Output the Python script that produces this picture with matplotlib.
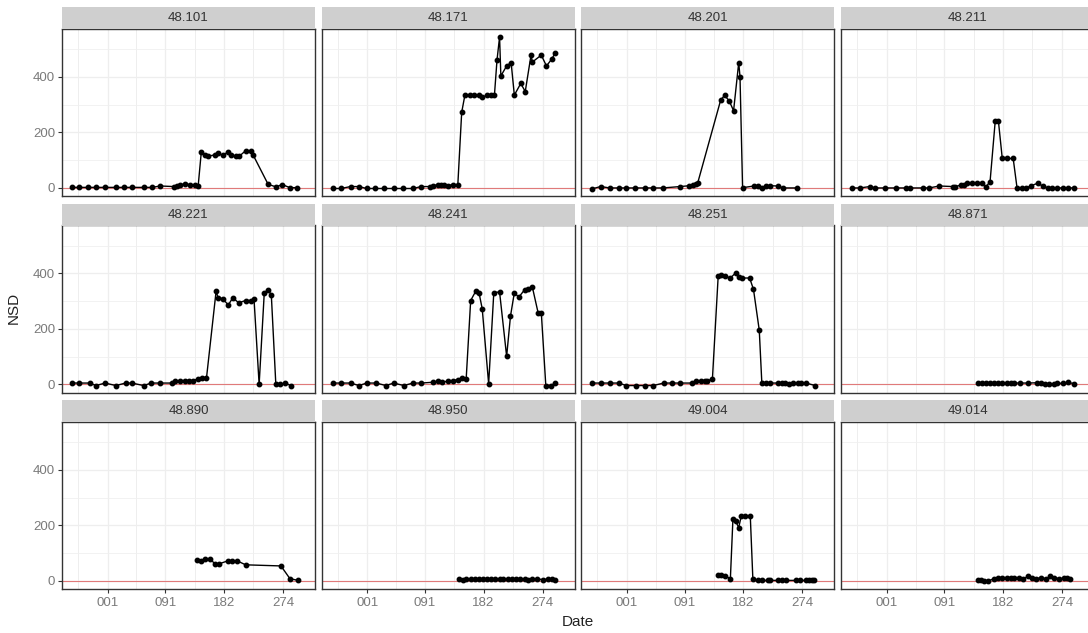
import matplotlib.pyplot as plt

plt.rcParams['font.family'] = ['Liberation Sans', 'DejaVu Sans']

# day-of-year relative to 1 January (negative = previous autumn)
sites = ['48.101', '48.171', '48.201', '48.211',
         '48.221', '48.241', '48.251', '48.871',
         '48.890', '48.950', '49.004', '49.014']

day_48101 = [-56, -44, -31, -18, -4, 13, 26, 38, 56, 69, 82, 103, 108, 113, 121, 128, 136, 141,
             146, 151, 156, 167, 172, 179, 187, 192, 200, 205, 215, 223, 227, 250, 262, 272, 284, 295]
nsd_48101 = [2, 2, 2, 2, 2, 2, 2, 2, 2, 2, 7, 5, 8, 12, 14, 12, 10, 6,
             131, 117, 114, 119, 126, 117, 129, 117, 114, 114, 134, 134, 117, 13, 4, 12, 1, 1]

day_48171 = [-54, -41, -26, -13, -1, 12, 26, 41, 56, 71, 84, 97, 103, 110, 115, 120, 125, 133, 141,
             147, 152, 160, 166, 174, 179, 187, 193, 198, 202, 206, 208, 217, 224, 229, 239, 246,
             255, 257, 271, 279, 287, 293]
nsd_48171 = [-2, -2, 5, 5, -2, -2, -2, -2, -2, -2, 5, 5, 8, 12, 12, 10, 8, 12, 12,
             272, 334, 334, 334, 334, 326, 334, 334, 334, 460, 543, 403, 439, 451, 334, 376, 347,
             478, 453, 478, 439, 463, 487]

day_48201 = [-54, -41, -27, -13, -1, 12, 28, 41, 56, 83, 97, 103, 107, 110,
             146, 152, 159, 166, 174, 176, 180, 198, 204, 210, 217, 223, 235, 243, 264]
nsd_48201 = [-3, 5, 0, 0, 0, 0, 0, 0, 0, 5, 8, 10, 14, 17,
             317, 333, 314, 278, 451, 400, 1, 7, 7, 0, 8, 8, 7, 0, 0]

day_48211 = [-54, -42, -26, -18, -3, 14, 30, 37, 57, 66, 82, 103, 107, 115, 120, 125, 133, 141,
             148, 154, 161, 169, 174, 180, 187, 197, 203, 210, 217, 224, 235, 243, 251, 258, 266,
             274, 282, 292]
nsd_48211 = [0, 0, 5, 0, 0, 0, 0, 0, 0, 0, 7, 5, 5, 10, 10, 19, 19, 19,
             19, 2, 23, 240, 240, 106, 106, 106, 0, 0, 0, 7, 17, 7, 0, 0, 0,
             0, 0, 0]

day_48221 = [-56, -44, -28, -18, -4, 13, 28, 38, 56, 68, 81, 100, 105, 113, 121, 126, 133, 141,
             147, 154, 169, 172, 179, 188, 195, 204, 215, 223, 228, 236, 244, 250, 255, 262, 269,
             277, 285]
nsd_48221 = [5, 5, 5, -4, 5, -4, 5, 5, -4, 5, 5, 5, 12, 14, 14, 14, 14, 20,
             23, 23, 336, 312, 309, 286, 312, 294, 302, 302, 309, 0, 330, 341, 321, 0, 0,
             5, -4]

day_48241 = [-54, -41, -26, -13, -1, 14, 29, 41, 57, 71, 84, 103, 110, 117, 125, 133, 141, 147,
             154, 161, 169, 174, 179, 189, 197, 206, 217, 223, 229, 236, 245, 251, 257, 266, 271,
             278, 286, 293]
nsd_48241 = [5, 5, 5, -4, 5, 5, -4, 5, -4, 5, 5, 8, 12, 8, 12, 14, 17, 23,
             20, 302, 336, 330, 272, 2, 330, 333, 101, 246, 330, 314, 341, 345, 351, 258, 258,
             -4, -4, 5]

day_48251 = [-54, -41, -27, -13, -1, 14, 28, 41, 57, 70, 83, 102, 108, 115, 122, 125, 133, 142,
             147, 153, 161, 169, 174, 179, 191, 197, 206, 210, 217, 223, 235, 241, 246, 252, 258,
             266, 271, 279, 293]
nsd_48251 = [5, 5, 5, 5, -4, -4, -4, -4, 5, 5, 5, 5, 11, 14, 14, 14, 18, 389,
             393, 389, 383, 401, 386, 383, 383, 342, 195, 5, 5, 5, 5, 5, 5, 0, 5,
             5, 5, 5, -4]

day_48871 = [142, 148, 154, 161, 167, 174, 180, 187, 193, 199, 207, 220, 234, 241, 247, 253,
             260, 266, 274, 282, 292]
nsd_48871 = [5, 5, 5, 5, 5, 5, 5, 5, 5, 5, 5, 5, 6, 6, 2, 2, 2, 4, 4, 7, 3]

day_48890 = [139, 146, 151, 160, 167, 174, 187, 194, 202, 215, 270, 284, 297]
nsd_48890 = [76, 72, 78, 78, 62, 62, 72, 72, 72, 58, 54, 8, 2]

day_48950 = [143, 149, 154, 161, 167, 174, 180, 187, 193, 199, 206, 212, 219, 225, 231, 238,
             245, 251, 257, 264, 274, 281, 287, 293]
nsd_48950 = [8, 3, 8, 8, 8, 8, 8, 8, 8, 8, 8, 8, 8, 8, 8, 8, 8, 3, 8, 8, 4, 7, 8, 4]

day_49004 = [142, 146, 153, 161, 165, 169, 174, 178, 184, 192, 196, 204, 210, 219, 223, 235,
             242, 248, 263, 269, 278, 284, 288, 292]
nsd_49004 = [20, 20, 18, 8, 224, 216, 192, 234, 234, 234, 8, 2, 2, 2, 2, 2,
             2, 2, 2, 2, 2, 2, 2, 2]

day_49014 = [142, 147, 152, 158, 167, 173, 179, 187, 193, 199, 206, 212, 220, 226, 233, 241,
             248, 255, 261, 269, 276, 281, 286]
nsd_49014 = [2, 2, 1, 0, 8, 12, 12, 12, 12, 12, 12, 8, 16, 12, 8, 12, 8, 16, 12, 8, 10, 10, 8]

series = {
    '48.101': (day_48101, nsd_48101), '48.171': (day_48171, nsd_48171),
    '48.201': (day_48201, nsd_48201), '48.211': (day_48211, nsd_48211),
    '48.221': (day_48221, nsd_48221), '48.241': (day_48241, nsd_48241),
    '48.251': (day_48251, nsd_48251), '48.871': (day_48871, nsd_48871),
    '48.890': (day_48890, nsd_48890), '48.950': (day_48950, nsd_48950),
    '49.004': (day_49004, nsd_49004), '49.014': (day_49014, nsd_49014),
}

x_ticks = [0, 90, 181, 273]
x_labels = ['001', '091', '182', '274']
x_minor = [-46, 45, 135.5, 227]
y_ticks = [0, 200, 400]
y_minor = [100, 300, 500]

W, H = 1088, 633
fig = plt.figure(figsize=(W / 100, H / 100), dpi=100)

panel_w, panel_h = 253, 167
gap_x, pitch_y = 6.7, 196.5
strip_h = 22
left0, top0 = 62, 29

for i, site in enumerate(sites):
    r, c = divmod(i, 4)
    lx = left0 + c * (panel_w + gap_x)
    ty = top0 + r * pitch_y
    ax = fig.add_axes([lx / W, 1 - (ty + panel_h) / H, panel_w / W, panel_h / H])
    ax.set_xlim(-71, 323)
    ax.set_ylim(-29, 572)

    # grid
    for v in x_minor:
        ax.axvline(v, color='#EBEBEB', lw=0.6, zorder=0)
    for v in x_ticks:
        ax.axvline(v, color='#EEEEEE', lw=0.9, zorder=0)
    for v in y_minor:
        ax.axhline(v, color='#F0F0F0', lw=0.6, zorder=0)
    for v in y_ticks:
        ax.axhline(v, color='#EEEEEE', lw=0.9, zorder=0)

    ax.axhline(0, color='#E07A7A', lw=0.8, zorder=1)

    d, v = series[site]
    ax.plot(d, v, color='black', lw=1.0, marker='o', markersize=3.2, zorder=3)

    ax.set_xticks(x_ticks)
    ax.set_yticks(y_ticks)
    if r == 2:
        ax.set_xticklabels(x_labels)
        ax.tick_params(axis='x', length=3, color='#333333', labelcolor='#7a7a7a', labelsize=9.5, pad=3)
    else:
        ax.tick_params(axis='x', length=0, labelbottom=False)
    if c == 0:
        ax.set_yticklabels([str(t) for t in y_ticks])
        ax.tick_params(axis='y', length=3, color='#333333', labelcolor='#7a7a7a', labelsize=9.5, pad=2)
    else:
        ax.tick_params(axis='y', length=0, labelleft=False)

    for s in ax.spines.values():
        s.set_color('#333333')
        s.set_linewidth(1.0)

    # facet strip
    sx = fig.add_axes([lx / W, 1 - ty / H, panel_w / W, strip_h / H])
    sx.set_facecolor('#CFCFCF')
    sx.set_xticks([])
    sx.set_yticks([])
    for s in sx.spines.values():
        s.set_visible(False)
    sx.text(0.5, 0.5, site, ha='center', va='center', fontsize=9.5, color='#333333',
            transform=sx.transAxes)

fig.text(14 / W, 1 - 308 / H, 'NSD', rotation=90, ha='center', va='center', fontsize=11, color='#222222')
fig.text(578 / W, 1 - 622 / H, 'Date', ha='center', va='center', fontsize=11, color='#222222')

fig.savefig('out.png', dpi=100, facecolor='white')
